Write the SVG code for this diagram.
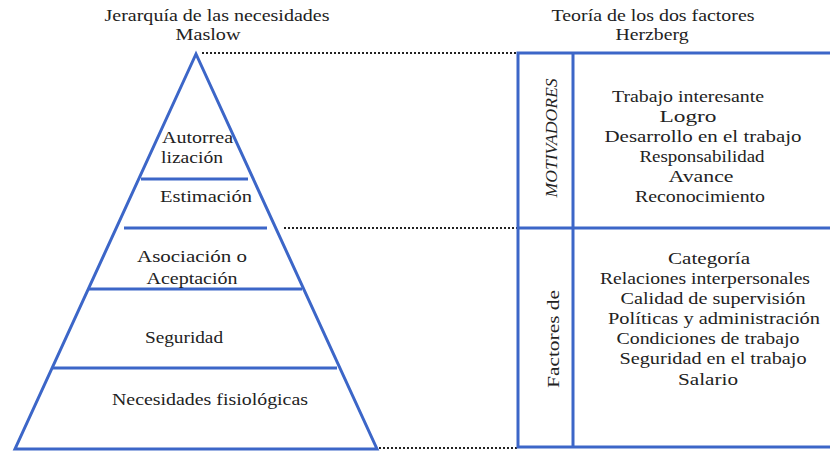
<svg xmlns="http://www.w3.org/2000/svg" width="830" height="452" viewBox="0 0 830 452">
<style>
.t{font-family:"Liberation Serif",serif;font-size:16px;fill:#222;}
.c{text-anchor:middle;}
.b{stroke:#3c66c8;stroke-width:3;fill:none;}
.d{stroke:#222;stroke-width:2;stroke-dasharray:2 2;fill:none;}
</style>
<rect width="830" height="452" fill="#fff"/>
<g id="titles">
<text class="t c" x="217" y="21" textLength="225" lengthAdjust="spacingAndGlyphs">Jerarquía de las necesidades</text>
<text class="t c" x="208" y="40" textLength="65" lengthAdjust="spacingAndGlyphs">Maslow</text>
<text class="t c" x="653" y="21" textLength="203" lengthAdjust="spacingAndGlyphs">Teoría de los dos factores</text>
<text class="t c" x="652" y="40" textLength="73" lengthAdjust="spacingAndGlyphs">Herzberg</text>
</g>
<g id="pyramid">
<polygon class="b" points="196,54 15,449 377,449"/>
<line class="b" x1="141" y1="179" x2="248" y2="179"/>
<line class="b" x1="124" y1="228" x2="267" y2="228"/>
<line class="b" x1="89" y1="289" x2="302" y2="289"/>
<line class="b" x1="53" y1="368" x2="337" y2="368"/>
</g>
<g id="autorrealizacion"><text class="t" x="162" y="143" textLength="71" lengthAdjust="spacingAndGlyphs">Autorrea</text><text class="t" x="161" y="163" textLength="62" lengthAdjust="spacingAndGlyphs">lización</text></g>
<g id="estimacion"><text class="t" x="160" y="202" textLength="92" lengthAdjust="spacingAndGlyphs">Estimación</text></g>
<g id="asociacion"><text class="t c" x="192" y="262" textLength="110" lengthAdjust="spacingAndGlyphs">Asociación o</text><text class="t c" x="192" y="284" textLength="91" lengthAdjust="spacingAndGlyphs">Aceptación</text></g>
<g id="seguridad"><text class="t c" x="184" y="343" textLength="78" lengthAdjust="spacingAndGlyphs">Seguridad</text></g>
<g id="fisiologicas"><text class="t c" x="210" y="405" textLength="196" lengthAdjust="spacingAndGlyphs">Necesidades fisiológicas</text></g>
<g id="connectors">
<line class="d" x1="202" y1="53" x2="518" y2="53"/>
<line class="d" x1="284" y1="228" x2="518" y2="228"/>
<line class="d" x1="379" y1="448" x2="518" y2="448"/>
</g>
<g id="herzberg-box">
<rect class="b" x="518" y="53" width="320" height="394"/>
<line class="b" x1="518" y1="228" x2="830" y2="228"/>
<line class="b" x1="573" y1="53" x2="573" y2="447"/>
</g>
<g id="motivadores">
<text class="t c" transform="translate(557,138) rotate(-90)" font-style="italic" textLength="119" lengthAdjust="spacingAndGlyphs">MOTIVADORES</text>
<text class="t c" x="688" y="102" textLength="152" lengthAdjust="spacingAndGlyphs">Trabajo interesante</text>
<text class="t c" x="688" y="122" textLength="57" lengthAdjust="spacingAndGlyphs">Logro</text>
<text class="t c" x="703" y="142" textLength="197" lengthAdjust="spacingAndGlyphs">Desarrollo en el trabajo</text>
<text class="t c" x="702" y="162" textLength="125" lengthAdjust="spacingAndGlyphs">Responsabilidad</text>
<text class="t c" x="701" y="182" textLength="65" lengthAdjust="spacingAndGlyphs">Avance</text>
<text class="t c" x="700" y="202" textLength="130" lengthAdjust="spacingAndGlyphs">Reconocimiento</text>
</g>
<g id="factores">
<text class="t c" transform="translate(559,339) rotate(-90)" textLength="98" lengthAdjust="spacingAndGlyphs">Factores de</text>
<text class="t c" x="709" y="264" textLength="82" lengthAdjust="spacingAndGlyphs">Categoría</text>
<text class="t c" x="705" y="284" textLength="210" lengthAdjust="spacingAndGlyphs">Relaciones interpersonales</text>
<text class="t c" x="713" y="304" textLength="185" lengthAdjust="spacingAndGlyphs">Calidad de supervisión</text>
<text class="t c" x="714" y="324" textLength="212" lengthAdjust="spacingAndGlyphs">Políticas y administración</text>
<text class="t c" x="708" y="344" textLength="183" lengthAdjust="spacingAndGlyphs">Condiciones de trabajo</text>
<text class="t c" x="713" y="364" textLength="187" lengthAdjust="spacingAndGlyphs">Seguridad en el trabajo</text>
<text class="t c" x="708" y="385" textLength="60" lengthAdjust="spacingAndGlyphs">Salario</text>
</g>
</svg>
